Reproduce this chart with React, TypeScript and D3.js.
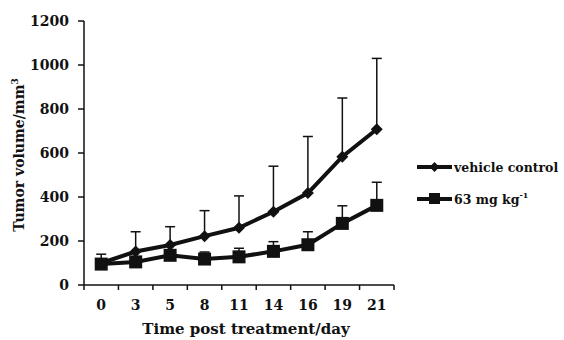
import React from "react";
import * as d3 from "d3";

const days = ["0", "3", "5", "8", "11", "14", "16", "19", "21"];
const vehicleMean = [100, 152, 182, 222, 260, 333, 418, 583, 708];
const vehicleUpper = [140, 242, 265, 338, 405, 540, 675, 850, 1030];
const drugMean = [95, 105, 135, 118, 128, 153, 183, 280, 362];
const drugUpper = [110, 120, 150, 150, 167, 197, 242, 360, 467];
const yTicks = [0, 200, 400, 600, 800, 1000, 1200];

const W = 564, H = 340;
const left = 84, right = 394, top = 21, bottom = 285;
const font = "'DejaVu Serif', 'Liberation Serif', serif";

export default function App() {
  const x = d3.scaleBand<string>().domain(days).range([left, right]);
  const y = d3.scaleLinear().domain([0, 1200]).range([bottom, top]);
  const cx = (d: string) => (x(d) as number) + x.bandwidth() / 2;
  const line = d3.line<number>().x((_, i) => cx(days[i])).y((v) => y(v));
  const tickPos = days.map((d) => x(d) as number).concat([right]);

  const diamond = (px: number, py: number, s: number) =>
    `M${px},${py - s}L${px + s},${py}L${px},${py + s}L${px - s},${py}Z`;

  const errBars = (mean: number[], upper: number[], key: string) =>
    mean.map((m, i) => {
      const px = cx(days[i]);
      return (
        <g key={key + i}>
          <line x1={px} x2={px} y1={y(m)} y2={y(upper[i])} stroke="#111" strokeWidth={1.5} />
          <line x1={px - 5} x2={px + 5} y1={y(upper[i])} y2={y(upper[i])} stroke="#111" strokeWidth={1.5} />
        </g>
      );
    });

  return (
    <svg width={W} height={H} style={{ position: "absolute", left: 0, top: 0, background: "#fff" }} fontFamily={font}>
      {/* axes */}
      <line x1={left} x2={left} y1={top} y2={bottom} stroke="#111" strokeWidth={1.5} />
      <line x1={left} x2={right} y1={bottom} y2={bottom} stroke="#111" strokeWidth={1.5} />
      {yTicks.map((t) => (
        <g key={"y" + t}>
          <line x1={left - 6} x2={left} y1={y(t)} y2={y(t)} stroke="#111" strokeWidth={1.5} />
          <text x={left - 15} y={y(t) + 5} textAnchor="end" fontSize={14} fontWeight="bold" fill="#111">{t}</text>
        </g>
      ))}
      {tickPos.map((p, i) => (
        <line key={"xt" + i} x1={p} x2={p} y1={bottom} y2={bottom + 5} stroke="#111" strokeWidth={1.5} />
      ))}
      {days.map((d) => (
        <text key={"xl" + d} x={cx(d)} y={bottom + 25} textAnchor="middle" fontSize={14} fontWeight="bold" fill="#111">{d}</text>
      ))}
      <text x={246} y={334} textAnchor="middle" fontSize={15} fontWeight="bold" fill="#111">Time post treatment/day</text>
      <text transform={`translate(24,155) rotate(-90)`} textAnchor="middle" fontSize={14} fontWeight="bold" fill="#111">
        Tumor volume/mm<tspan fontSize={9} dy={-6}>3</tspan>
      </text>

      {/* error bars */}
      {errBars(vehicleMean, vehicleUpper, "v")}
      {errBars(drugMean, drugUpper, "d")}

      {/* lines */}
      <path d={line(vehicleMean) as string} fill="none" stroke="#111" strokeWidth={4} />
      <path d={line(drugMean) as string} fill="none" stroke="#111" strokeWidth={4} />
      {vehicleMean.map((v, i) => (
        <path key={"vm" + i} d={diamond(cx(days[i]), y(v), 6)} fill="#111" />
      ))}
      {drugMean.map((v, i) => (
        <rect key={"dm" + i} x={cx(days[i]) - 6.5} y={y(v) - 6.5} width={13} height={13} fill="#111" />
      ))}

      {/* legend */}
      <line x1={417} x2={452} y1={167} y2={167} stroke="#111" strokeWidth={4} />
      <path d={diamond(434.5, 167, 5)} fill="#111" />
      <text x={454} y={172} fontSize={12.5} fontWeight="bold" fill="#111">vehicle control</text>
      <line x1={417} x2={452} y1={199} y2={199} stroke="#111" strokeWidth={4} />
      <rect x={429} y={193} width={11} height={11} fill="#111" />
      <text x={454} y={204} fontSize={12.5} fontWeight="bold" fill="#111">
        63 mg kg<tspan fontSize={8} dy={-6}>-1</tspan>
      </text>
    </svg>
  );
}
